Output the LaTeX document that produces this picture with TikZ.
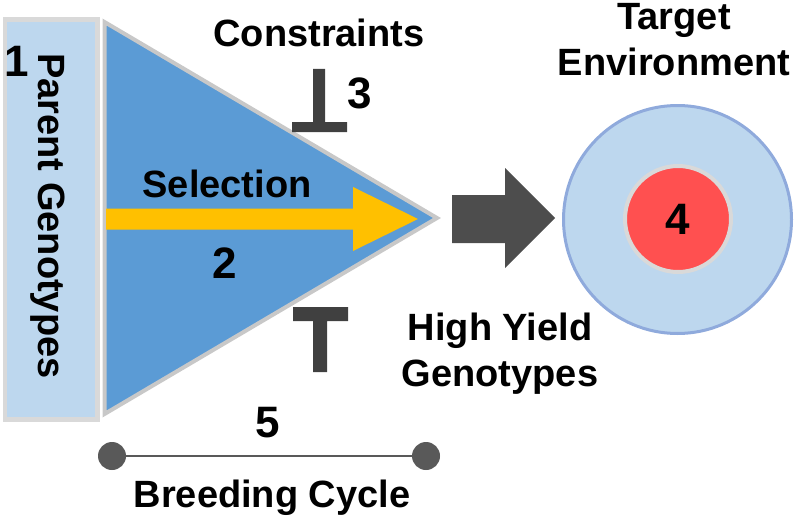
\documentclass[tikz,border=0pt]{standalone}
\usepackage{fontspec}
\setmainfont{Liberation Sans}
\definecolor{paleblue}{HTML}{BDD7EE}
\definecolor{rimgray}{HTML}{D9D9D9}
\definecolor{edgegray}{HTML}{C8C8C8}
\definecolor{wedgeblue}{HTML}{5B9BD5}
\definecolor{amber}{HTML}{FFC000}
\definecolor{bargray}{HTML}{404040}
\definecolor{arrowgray}{HTML}{4D4D4D}
\definecolor{dotgray}{HTML}{595959}
\definecolor{ringblue}{HTML}{8FAADC}
\definecolor{coral}{HTML}{FF5050}
\begin{document}
\begin{tikzpicture}[x=1pt,y=-1pt,
	lbl/.style={font=\fontsize{38}{46}\selectfont\bfseries, inner sep=0pt},
	num/.style={font=\fontsize{44}{50}\selectfont\bfseries, inner sep=0pt},
	dot/.style={circle, fill=dotgray, minimum size=28pt, inner sep=0pt}]
\useasboundingbox (0,0) rectangle (800,519);

% parent genotypes
\begin{scope}
	\draw[line width=4.5pt, draw=rimgray, fill=paleblue] (5,19.5) rectangle (97.5,419.5);
	\node[num, anchor=base] (one) at (17,77) {1};
	\node[lbl, anchor=base, rotate=-90] (parents) at (38,216) {Parent Genotypes};
\end{scope}

% selection wedge
\begin{scope}
	\draw[line width=4pt, draw=edgegray, fill=wedgeblue] (104.5,22) -- (437,218) -- (104.5,414) -- cycle;
	\fill[amber] (106,208.5) -- (353,208.5) -- (353,187) -- (418,219)
	             -- (353,251) -- (353,229.5) -- (106,229.5) -- cycle;
	\node[lbl, anchor=base] (sel) at (227,197) {Selection};
	\node[num, anchor=base] (two) at (225,278) {2};
\end{scope}

% constraints
\begin{scope}
	\node[lbl, anchor=base] (cons) at (319,47) {Constraints};
	\fill[bargray] (313,69) rectangle (325,122)
	               (292,122) rectangle (347,132);
	\node[num, anchor=base] (three) at (360,108) {3};
	\fill[bargray] (293,307) rectangle (348,321)
	               (313,321) rectangle (327,372);
\end{scope}

% output arrow
\fill[arrowgray] (452,195) -- (505,195) -- (505,168) -- (555,218)
                 -- (505,268) -- (505,243) -- (452,243) -- cycle;
\node[lbl, align=center] (yield) at (500,354) {High Yield\\Genotypes};

% target environment
\begin{scope}
	\node[circle, minimum size=228pt, line width=3pt, draw=ringblue, fill=paleblue] (env) at (677.5,219.5) {};
	\node[circle, num, minimum size=106pt, line width=4pt, draw=rimgray, fill=coral] (core) at (678,219) {4};
	\node[lbl, align=center] (target) at (674,40) {Target\\Environment};
\end{scope}

% breeding cycle
\begin{scope}
	\node[dot] (start) at (112,456) {};
	\node[dot] (stop) at (426,456) {};
	\draw[line width=2.5pt, dotgray] (start) -- (stop);
	\node[num, anchor=base] (five) at (268,437) {5};
	\node[lbl, anchor=base] (cycle) at (272,507) {Breeding Cycle};
\end{scope}
\end{tikzpicture}
\end{document}
